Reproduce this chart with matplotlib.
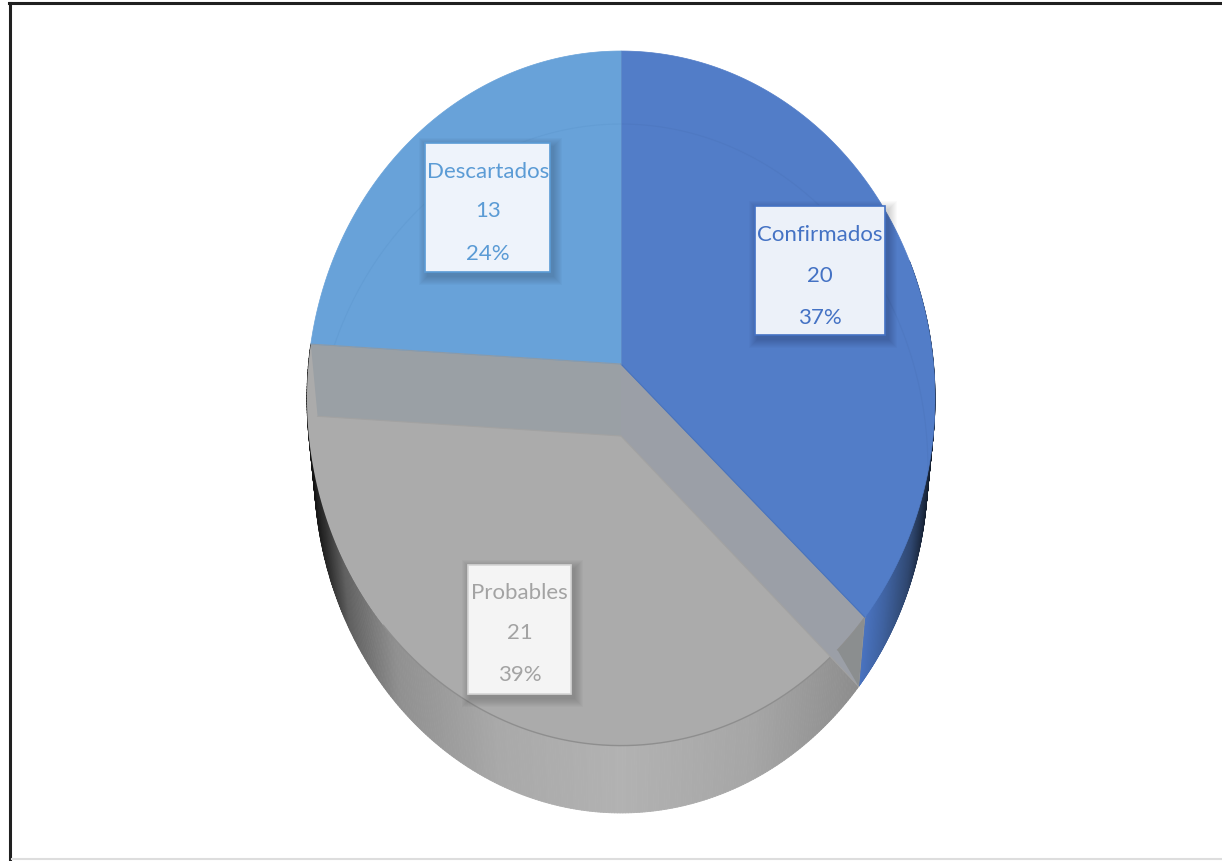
from matplotlib import pyplot as plt
from matplotlib.collections import PolyCollection
from matplotlib.patches import Polygon, Rectangle
import numpy as np

categorias = ['Confirmados', 'Probables', 'Descartados']
valores = [20, 21, 13]
colores = ['#527dc8', '#ababab', '#68a2d9']
colores_texto = ['#4472c4', '#a3a3a3', '#5b9bd5']
bordes_caja = ['#4472c4', '#d5d5d5', '#5b9bd5']
fondos = ['#ecf1f9', '#f4f4f4', '#eef3fb']

# cajas de las etiquetas: x0, y0, x1, y1 en pixeles
cajas = [(755, 207, 885, 336), (468, 566, 571, 695), (425, 144, 550, 273)]
lineas_y = [(235, 276, 318), (593, 633, 675), (172, 211, 254)]

plt.rcParams['font.family'] = ['Lato', 'DejaVu Sans']

# disco de arriba y disco de abajo, con perspectiva
ARRIBA = dict(cx=621, cy=365, a=343.9, b=312.5, k=0.0988)
ABAJO = dict(cx=621, cy=437, a=341.4, b=305.6, k=0.0943)


def proyectar(theta, d):
    # theta en radianes, sentido horario desde arriba
    u = np.sin(theta)
    v = np.cos(theta)
    den = 1 + d['k'] * v
    return d['cx'] + d['b'] * u / den, d['cy'] - d['a'] * v / den


def arco(t0, t1, d, n=200):
    x, y = proyectar(np.linspace(t0, t1, n), d)
    return np.column_stack([x, y])


fig = plt.figure(figsize=(12.22, 8.62), dpi=100)
ax = fig.add_axes([0, 0, 1, 1])
ax.set_xlim(0, 1222)
ax.set_ylim(862, 0)
ax.axis('off')

angulos = np.concatenate([[0], np.cumsum(valores) / np.sum(valores) * 2 * np.pi])
t1, t2 = angulos[1], angulos[2]


def pared(t0, t1, xs, cs):
    # pared exterior con gradiente horizontal, por tiras
    n = 300
    ts = np.linspace(t0, t1, n)
    xa, ya = proyectar(ts, ARRIBA)
    xb, yb = proyectar(ts, ABAJO)
    tiras = []
    col = []
    cs = np.array([plt.matplotlib.colors.to_rgb(c) for c in cs])
    for i in range(n - 1):
        tiras.append([(xa[i], ya[i]), (xa[i + 1], ya[i + 1]),
                      (xb[i + 1], yb[i + 1]), (xb[i], yb[i])])
        xm = (xb[i] + xb[i + 1]) / 2
        col.append([np.interp(xm, xs, cs[:, j]) for j in range(3)])
    ax.add_collection(PolyCollection(tiras, facecolors=col, edgecolors=col,
                                     linewidths=0.6, zorder=1))


# paredes exteriores
pared(np.pi * 0.4, t1,
      [858, 880, 905, 925, 935],
      ['#4a74c2', '#3f62a0', '#2f4770', '#141e2e', '#101820'])
pared(t1, t2,
      [312, 330, 350, 400, 500, 621, 750, 860],
      ['#101010', '#303030', '#606060', '#909090', '#a9a9a9', '#b2b2b2',
       '#a6a6a6', '#8c8c8c'])

# caras de arriba
centro = (ARRIBA['cx'], ARRIBA['cy'])
centro_abajo = (ABAJO['cx'], ABAJO['cy'])
cara_probables = np.vstack([[centro], arco(t1, t2, ARRIBA)])
ax.add_patch(Polygon(cara_probables, closed=True, fc=colores[1], ec='none', zorder=2))
ax.plot(*arco(t1, np.pi * 1.25, ARRIBA).T, color='#8e8e8e', lw=1, zorder=3)

# bandas interiores translucidas
p1 = proyectar(t1, ARRIBA)
q1 = proyectar(t1, ABAJO)
p2 = proyectar(t2, ARRIBA)
q2 = proyectar(t2, ABAJO)
ax.add_patch(Polygon([centro, p2, q2, centro_abajo], closed=True, fc='#9aa0a5', ec='none', zorder=3))
banda = Polygon([centro, p1, q1, centro_abajo], closed=True, fc='#9b9fa7', ec='none', zorder=3)
ax.add_patch(banda)
ax.plot([centro_abajo[0], q1[0]], [centro_abajo[1], q1[1]], color='#a2a2a2', lw=0.8, zorder=3)
ax.plot([centro_abajo[0], q2[0]], [centro_abajo[1], q2[1]], color='#a2a2a2', lw=0.8, zorder=3)

# parte de la banda por debajo del borde: mas oscura
fuera = np.vstack([arco(t1, t1 + 0.12, ARRIBA), [q1], [p1]])
rec = Polygon(fuera, closed=True, fc='#8b8e8f', ec='none', zorder=3)
ax.add_patch(rec)
rec.set_clip_path(banda)
ax.plot(*arco(t1, t1 + 0.12, ARRIBA).T, color='#8e8e8e', lw=0.8, zorder=3)

# caras azules
for i in (0, 2):
    cara = np.vstack([[centro], arco(angulos[i], angulos[i + 1], ARRIBA)])
    pieza = Polygon(cara, closed=True, fc=colores[i], ec=colores[i], lw=0.5, zorder=4)
    ax.add_patch(pieza)
    borde = '#4f79c2' if i == 0 else '#639dd4'
    linea, = ax.plot(*arco(angulos[i], angulos[i + 1], ABAJO, 100).T, color=borde, lw=0.8, zorder=4)
    linea.set_clip_path(pieza)
ax.plot(*np.array([centro, p1]).T, color='#4a74bc', lw=0.8, zorder=5)
ax.plot(*np.array([centro, p2]).T, color='#8b9aa8', lw=0.8, zorder=5)
ax.plot([621, 621], [52, 365], color='#5f8cc8', lw=0.5, zorder=5)

# etiquetas
total = np.sum(valores)
for i, nombre in enumerate(categorias):
    x0, y0, x1, y1 = cajas[i]
    for s in range(9, 0, -1):
        ax.add_patch(Rectangle((x0 - s + 3, y0 - s + 4), x1 - x0 + 2 * s, y1 - y0 + 2 * s,
                               fc='black', ec='none', alpha=0.018, zorder=6))
    ax.add_patch(Rectangle((x0, y0), x1 - x0, y1 - y0, fc=fondos[i],
                           ec=bordes_caja[i], lw=1.2, zorder=7))
    textos = [nombre, str(valores[i]), f'{valores[i] / total:.0%}']
    xc = (x0 + x1) / 2
    if i == 2:
        xc = 488
    for texto, y in zip(textos, lineas_y[i]):
        ax.text(xc, y, texto, color=colores_texto[i], fontsize=16, ha='center',
                va='center', zorder=8)

# marco de la imagen
ax.plot([10, 10], [4, 862], color='#202020', lw=2.2, zorder=9)
ax.plot([9, 1222], [4, 4], color='#202020', lw=2.2, zorder=9)
ax.plot([12, 1222], [860.5, 860.5], color='#dddddd', lw=1.5, zorder=9)

fig.savefig('out.png', dpi=100)
